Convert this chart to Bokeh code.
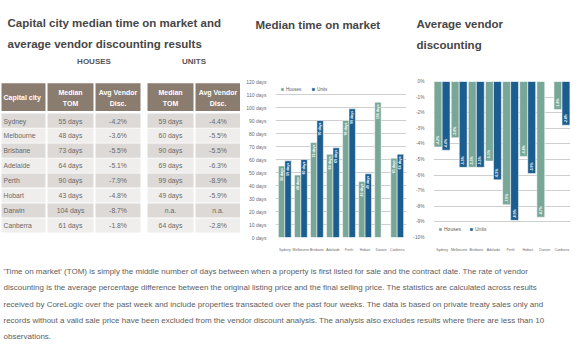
import math
from bokeh.plotting import figure
from bokeh.layouts import column, row
from bokeh.models import ColumnDataSource, FactorRange, Range1d, FixedTicker, CustomJSTickFormatter
from bokeh.transform import dodge
from bokeh.core.properties import value
from bokeh.embed import file_html
from bokeh.resources import INLINE

# ---------------- data ----------------
cities = ["Sydney", "Melbourne", "Brisbane", "Adelaide", "Perth", "Hobart", "Darwin", "Canberra"]
houses_tom = [55, 48, 73, 64, 90, 43, 104, 61]
units_tom = [59, 60, 90, 69, 99, 49, None, 64]
houses_disc = [-4.2, -3.6, -5.5, -5.1, -7.9, -4.8, -8.7, -1.8]
units_disc = [-4.4, -5.5, -5.5, -6.3, -8.9, -5.9, None, -2.8]
tom_ticks = [0, 10, 20, 30, 40, 50, 60, 70, 80, 90, 100, 110, 120]
disc_ticks = [0, -1, -2, -3, -4, -5, -6, -7, -8, -9, -10]
series_names = ["Houses", "Units"]

table_title = ["Capital city median time on market and", "average vendor discounting results"]
group_labels = ["HOUSES", "UNITS"]
header_cols = [["Capital city"], ["Median", "TOM"], ["Avg Vendor", "Disc."],
               ["Median", "TOM"], ["Avg Vendor", "Disc."]]
chart1_title = ["Median time on market"]
chart2_title = ["Average vendor", "discounting"]
note_lines = [
    "'Time on market' (TOM) is simply the middle number of days between when a property is first listed for sale and the contract date.  The rate of vendor",
    "discounting is the average percentage difference between the original listing price and the final selling price.  The statistics are calculated across results",
    "received by CoreLogic over the past week and include properties transacted over the past four weeks. The data is based on private treaty sales only and",
    "records without a valid sale price have been excluded from the vendor discount analysis. The analysis also excludes results where there are less than 10",
    "observations.",
]

# ---------------- styles ----------------
FONT = "Liberation Sans"
GREEN = "#79a797"
BLUE = "#1b5d8f"
TITLE_C = "#464646"
TEXT_C = "#6a6a6a"
HEAD_BG = "#8b7c70"
ROW_DARK = "#dcd9d6"
ROW_LIGHT = "#efeeec"
NAN = float("nan")


def tom_label(v):
    return "n.a." if v is None else f"{v} days"


def disc_label(v):
    return "n.a." if v is None else f"{v:.1f}%"


def num(v):
    return NAN if v is None else v


def pix_fig(w, h):
    p = figure(width=w, height=h, x_range=Range1d(0, w), y_range=Range1d(h, 0),
               output_backend="svg", toolbar_location=None, min_border=0,
               x_axis_location=None, y_axis_location=None, outline_line_color=None)
    p.grid.visible = False
    return p


# ---------------- top strip: titles ----------------
top = pix_fig(580, 68)
top.text(x=[7, 7], y=[22, 43], text=table_title, text_font=value(FONT), text_font_style="bold",
         text_font_size="11.5px", text_color=TITLE_C, text_baseline="alphabetic")
top.text(x=[93.5, 193.5], y=[61, 61], text=group_labels, text_font=value(FONT), text_font_style="bold",
         text_font_size="8px", text_color="#555555", text_align="center", text_baseline="middle")
top.text(x=[255], y=[24], text=chart1_title, text_font=value(FONT), text_font_style="bold",
         text_font_size="11.5px", text_color=TITLE_C, text_baseline="alphabetic")
top.text(x=[416, 416], y=[23, 44], text=chart2_title, text_font=value(FONT), text_font_style="bold",
         text_font_size="11.5px", text_color=TITLE_C, text_baseline="alphabetic")

# ---------------- table ----------------
tab = pix_fig(240, 190)
col_edges = [(1, 45), (47, 93), (95, 140), (147, 193), (195, 240)]
head_top, head_bot = 2, 36
row_top, row_h = 39, 18.25

tab.quad(left=[a for a, b in col_edges], right=[b for a, b in col_edges],
         top=[head_top] * 5, bottom=[head_bot] * 5, fill_color=HEAD_BG, line_color=None)
hx, hy, ht, ha = [], [], [], []
for (a, b), lines in zip(col_edges, header_cols):
    if len(lines) == 1:
        hx.append(a + 2); hy.append((head_top + head_bot) / 2); ht.append(lines[0]); ha.append("left")
    else:
        for k, s in enumerate(lines):
            hx.append((a + b) / 2); hy.append(13.5 + 13.5 * k); ht.append(s); ha.append("center")
tab.text(x="x", y="y", text="t", text_align="a",
         source=ColumnDataSource(dict(x=hx, y=hy, t=ht, a=ha)),
         text_font=value(FONT), text_font_style="bold", text_font_size="7px",
         text_color="white", text_baseline="middle")

ql, qr, qt, qb, qc = [], [], [], [], []
tx, ty, tt, ta = [], [], [], []
for i, c in enumerate(cities):
    cells = [c, tom_label(houses_tom[i]), disc_label(houses_disc[i]),
             tom_label(units_tom[i]), disc_label(units_disc[i])]
    y0 = row_top + row_h * i
    for j, ((a, b), s) in enumerate(zip(col_edges, cells)):
        ql.append(a); qr.append(b); qt.append(y0); qb.append(y0 + row_h - 1)
        qc.append(ROW_DARK if i % 2 == 0 else ROW_LIGHT)
        if j == 0:
            tx.append(a + 2); ta.append("left")
        else:
            tx.append((a + b) / 2); ta.append("center")
        ty.append(y0 + row_h / 2); tt.append(s)
tab.quad(left=ql, right=qr, top=qt, bottom=qb, fill_color=qc, line_color=None)
tab.text(x="x", y="y", text="t", text_align="a",
         source=ColumnDataSource(dict(x=tx, y=ty, t=tt, a=ta)),
         text_font=value(FONT), text_font_size="6.8px", text_color=TEXT_C, text_baseline="middle")


# ---------------- charts ----------------
def style_chart(p, ticks, code, ylab_size):
    p.yaxis.ticker = FixedTicker(ticks=ticks)
    p.yaxis.formatter = CustomJSTickFormatter(code=code)
    for ax in (p.xaxis, p.yaxis):
        ax.axis_line_color = None
        ax.major_tick_line_color = None
        ax.minor_tick_line_color = None
        ax.major_label_text_font = FONT
        ax.major_label_text_color = "#6a6a6a"
    p.yaxis.major_label_text_font_size = ylab_size
    p.xaxis.major_label_text_font_size = "3.5px"
    p.yaxis.major_label_standoff = 3
    p.xaxis.major_label_standoff = 4
    p.xgrid.grid_line_color = None
    p.ygrid.grid_line_color = "#cfcfcf"
    p.ygrid.grid_line_width = 1
    p.outline_line_color = None


def style_legend(p, loc, size):
    lg = p.legend[0]
    lg.location = loc
    lg.orientation = "horizontal"
    lg.label_text_font = FONT
    lg.label_text_font_size = size
    lg.label_text_color = "#5a5a5a"
    lg.glyph_width = 4
    lg.glyph_height = 4
    lg.label_height = 6
    lg.label_standoff = 2
    lg.spacing = 5
    lg.padding = 2
    lg.margin = 5
    lg.border_line_color = None
    lg.background_fill_alpha = 0.0


src1 = ColumnDataSource(dict(city=cities,
                             h=[num(v) for v in houses_tom], u=[num(v) for v in units_tom],
                             hl=[tom_label(v) for v in houses_tom],
                             ul=["" if v is None else tom_label(v) for v in units_tom]))
p1 = figure(width=170, height=190, x_range=FactorRange(*cities, range_padding=0.02),
            y_range=Range1d(0, 120), output_backend="svg", toolbar_location=None,
            min_border_left=35, min_border_right=4, min_border_top=13, min_border_bottom=20)
style_chart(p1, tom_ticks, "return tick + ' days';", "5px")
p1.vbar(x=dodge("city", -0.2, range=p1.x_range), top="h", width=0.4, source=src1,
        fill_color=GREEN, line_color="white", line_width=0.5, legend_label=series_names[0])
p1.vbar(x=dodge("city", 0.2, range=p1.x_range), top="u", width=0.4, source=src1,
        fill_color=BLUE, line_color="white", line_width=0.5, legend_label=series_names[1])
for off, ycol, lcol in ((-0.2, "h", "hl"), (0.2, "u", "ul")):
    p1.text(x=dodge("city", off, range=p1.x_range), y=ycol, text=lcol, source=src1,
            angle=math.pi / 2, text_align="right", text_baseline="middle", y_offset=2,
            text_color="white", text_font=value(FONT), text_font_style="bold", text_font_size="3.5px")
style_legend(p1, "top_left", "4.5px")

src2 = ColumnDataSource(dict(city=cities,
                             h=[num(v) for v in houses_disc], u=[num(v) for v in units_disc],
                             hl=[disc_label(v) for v in houses_disc],
                             ul=["" if v is None else disc_label(v) for v in units_disc]))
p2 = figure(width=170, height=190, x_range=FactorRange(*cities, range_padding=0.0),
            y_range=Range1d(-10, 0), output_backend="svg", toolbar_location=None,
            min_border_left=21, min_border_right=10, min_border_top=12, min_border_bottom=21)
style_chart(p2, disc_ticks, "return tick + '%';", "4.8px")
p2.vbar(x=dodge("city", -0.235, range=p2.x_range), top=0, bottom="h", width=0.46, source=src2,
        fill_color=GREEN, line_color="white", line_width=0.5, legend_label=series_names[0])
p2.vbar(x=dodge("city", 0.235, range=p2.x_range), top=0, bottom="u", width=0.46, source=src2,
        fill_color=BLUE, line_color="white", line_width=0.5, legend_label=series_names[1])
for off, ycol, lcol in ((-0.235, "h", "hl"), (0.235, "u", "ul")):
    p2.text(x=dodge("city", off, range=p2.x_range), y=ycol, text=lcol, source=src2,
            angle=math.pi / 2, text_align="left", text_baseline="middle", y_offset=-2,
            text_color="white", text_font=value(FONT), text_font_style="bold", text_font_size="3.5px")
style_legend(p2, "bottom_left", "5px")

# ---------------- footnote ----------------
note = pix_fig(580, 94)
note.text(x=[3] * len(note_lines), y=[13 + 16.3 * k for k in range(len(note_lines))], text=note_lines,
          text_font=value(FONT), text_font_size="8px", text_color="#5e5e5e", text_baseline="middle")

layout = column(top, row(tab, p1, p2, spacing=0), note, spacing=0)
open("out.html", "w").write(file_html(layout, INLINE))
